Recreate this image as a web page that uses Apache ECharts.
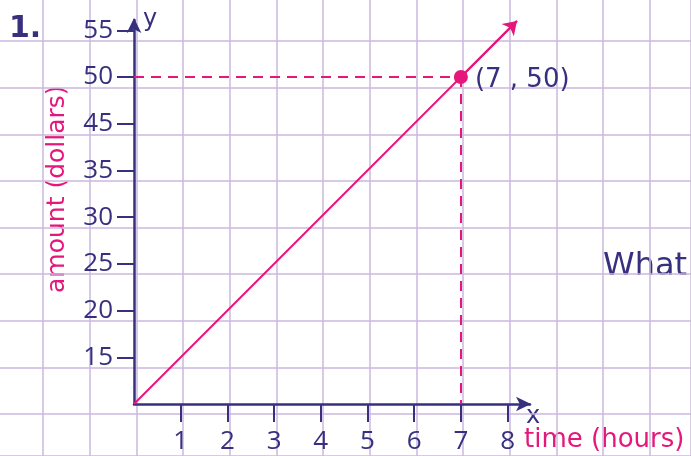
<!DOCTYPE html>
<html>
<head>
<meta charset="utf-8">
<title>time vs amount</title>
<script src="https://cdn.jsdelivr.net/npm/echarts@6/dist/echarts.min.js"></script>
<style>
  html, body { margin: 0; padding: 0; background: #fff; }
  #chart { width: 691px; height: 456px; }
</style>
</head>
<body>
<div id="chart"></div>
<script>
// tick labels as printed on the sheet (the y axis skips 40)
var xTicks = [1, 2, 3, 4, 5, 6, 7, 8];
var yTicks = [15, 20, 25, 30, 35, 45, 50, 55];

// the marked point (time, amount)
var point = [7, 50];
// the line runs from the origin past the point, in axis steps
var lineStart = [0, 0];
var lineEnd = [8.2, 8.2];

var navy = '#37307e';
var pink = '#e5177b';
var paper = '#cbb8de';
var font = 'DejaVu Sans';
var numFont = 'Open Sans';

// y axis is drawn in steps: step n carries label yTicks[n-1]
function yStep(v) {
	return yTicks.indexOf(v) + 1;
}
var stepList = xTicks.map(function (v, i) { return i + 1; });
var px = point[0], py = yStep(point[1]);

var hidden = { axisLine: { show: false }, axisTick: { show: false }, axisLabel: { show: false } };
var paperLine = { show: true, lineStyle: { color: paper, width: 1.5 } };

var myChart = echarts.init(document.getElementById('chart'));

var option = {
	backgroundColor: '#fff',
	animation: false,
	grid: [
		// squared paper: vertical lines, then horizontal lines
		{ left: 43, top: 0, right: 0, bottom: 0 },
		{ left: 0, top: 41, right: 0, bottom: 0 },
		// the drawn axes
		{ left: 134, top: 20, right: 161, bottom: 52 }
	],
	xAxis: [
		Object.assign({ gridIndex: 0, type: 'value', min: 0, max: 13.88, interval: 1, splitLine: paperLine }, hidden),
		Object.assign({ gridIndex: 1, type: 'value', min: 0, max: 1, splitLine: { show: false } }, hidden),
		{
			gridIndex: 2, type: 'value', min: 0, max: 8.48, interval: 1,
			axisLine: {
				show: true, onZero: false,
				symbol: ['none', 'arrow'], symbolSize: [11, 15], symbolOffset: [0, 1],
				lineStyle: { color: navy, width: 2.5 }
			},
			axisTick: {
				show: true, inside: false, length: 18, customValues: xTicks,
				lineStyle: { color: navy, width: 2 }
			},
			axisLabel: {
				show: true, margin: 25, customValues: xTicks,
				color: navy, fontFamily: numFont, fontSize: 26
			},
			splitLine: { show: false }
		}
	],
	yAxis: [
		Object.assign({ gridIndex: 0, type: 'value', min: 0, max: 1, splitLine: { show: false } }, hidden),
		Object.assign({ gridIndex: 1, type: 'value', inverse: true, min: 0, max: 8.9, interval: 1, splitLine: paperLine }, hidden),
		{
			gridIndex: 2, type: 'value', min: 0, max: 8.22, interval: 1,
			axisLine: {
				show: true, onZero: false,
				symbol: ['none', 'arrow'], symbolSize: [11, 15], symbolOffset: [0, 2],
				lineStyle: { color: navy, width: 2.5 }
			},
			axisTick: {
				show: true, inside: false, length: 17, customValues: stepList,
				lineStyle: { color: navy, width: 2 }
			},
			axisLabel: {
				show: true, margin: 21, customValues: stepList,
				color: navy, fontFamily: numFont, fontSize: 26,
				formatter: function (v) { return yTicks[v - 1]; }
			},
			splitLine: { show: false }
		}
	],
	series: [{
		// straight line with arrow, plus dashed guides to the axes
		type: 'line',
		xAxisIndex: 2, yAxisIndex: 2,
		data: [lineStart, lineEnd],
		showSymbol: false,
		lineStyle: { color: pink, width: 2 },
		markLine: {
			silent: true,
			symbol: ['none', 'none'],
			label: { show: false },
			lineStyle: { color: pink, width: 2, type: [10, 7] },
			data: [
				[{ coord: [0, py] }, { coord: [px, py] }],
				[{ coord: [px, py] }, { coord: [px, 0] }],
				[{ coord: [px, py], lineStyle: { type: 'solid' }, symbol: 'none' },
				 { coord: lineEnd, symbol: 'arrow', symbolSize: 13 }]
			]
		},
		z: 3
	}, {
		type: 'scatter',
		xAxisIndex: 2, yAxisIndex: 2,
		data: [[px, py]],
		symbolSize: 14,
		itemStyle: { color: pink, opacity: 1 },
		label: {
			show: true, position: 'right', distance: 7, offset: [0, 3],
			formatter: '(' + point[0] + ' , ' + point[1] + ')',
			color: navy, opacity: 1, fontFamily: font, fontSize: 26
		},
		z: 4
	}],
	graphic: [
		{ type: 'text', left: 9, top: 14, style: { text: '1.', fill: navy, font: 'bold 30px "DejaVu Sans"' } },
		{ type: 'text', left: 143, top: 8, style: { text: 'y', fill: navy, font: '24px "DejaVu Sans"' } },
		{ type: 'text', left: 526, top: 405, style: { text: 'x', fill: navy, font: '24px "DejaVu Sans"' } },
		{ type: 'text', left: 524, top: 427, style: { text: 'time (hours)', fill: pink, font: '26px "DejaVu Sans"' } },
		{ type: 'text', left: 603, top: 251, style: { text: 'What', fill: navy, font: '32px "DejaVu Sans"' } },
		{ type: 'text', x: 45, y: 293, rotation: Math.PI / 2,
		  style: { text: 'amount (dollars)', fill: pink, font: '25px "DejaVu Sans"' } }
	]
};

myChart.setOption(option);
</script>
</body>
</html>
